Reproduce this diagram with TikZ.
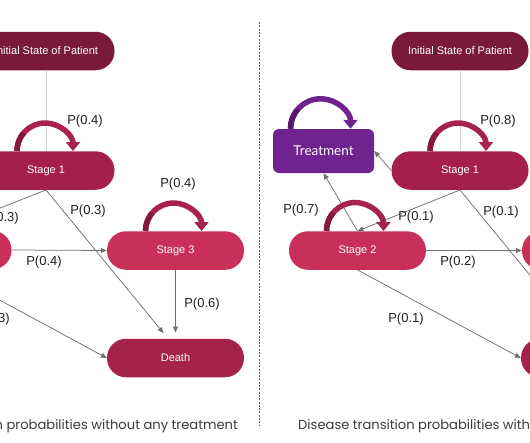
\documentclass[tikz,border=0pt]{standalone}
\usepackage{fontspec}
\setmainfont{Liberation Sans}
\newfontfamily\capfont{Poppins}
\newfontfamily\treatfont{Lato}
\usetikzlibrary{arrows.meta}
\definecolor{initc}{HTML}{791A38}
\definecolor{sonec}{HTML}{A4204B}
\definecolor{stwoc}{HTML}{C8305A}
\definecolor{deathc}{HTML}{A5224B}
\definecolor{treatc}{HTML}{6E2391}
\definecolor{loopc}{HTML}{A8224E}
\definecolor{loopdark}{HTML}{86183C}
\definecolor{purpc}{HTML}{6E2391}
\definecolor{purpdark}{HTML}{54196F}
\definecolor{edgec}{HTML}{707070}
\definecolor{vlinec}{HTML}{CFCFCF}
\definecolor{divc}{HTML}{B23A4C}
\definecolor{capc}{HTML}{3A3A3A}
\begin{document}
\begin{tikzpicture}[x=1pt,y=-1pt,
  pill/.style={rectangle, rounded corners=19pt, minimum width=137pt, minimum height=38.5pt, inner sep=0pt, text=white, font=\fontsize{11}{13}\selectfont},
  conn/.style={draw=edgec, line width=0.75pt, -{Triangle[width=5pt,length=6pt]}},
  plabel/.style={font=\fontsize{13}{15}\selectfont, text=black!88, inner sep=0pt},
  loopa/.style={line width=5.5pt, -{Triangle[width=14pt,length=9pt]}},
  loopfoot/.style={line width=5.5pt},
  capstyle/.style={font=\capfont\fontsize{13.1}{16}\selectfont, text=capc, inner sep=0pt},
  vline/.style={draw=vlinec, line width=0.8pt}
]
\useasboundingbox (0,0) rectangle (530,442);
\clip (0,0) rectangle (530,442);

% ---------------- left panel ----------------
\node[pill, fill=initc] (Linit) at (46,51) {Initial State of Patient};
\node[pill, fill=sonec] (Ls1) at (46,170.5) {Stage 1};
\node[pill, fill=stwoc] (Ls2) at (-57,250) {Stage 2};
\node[pill, fill=stwoc] (Ls3) at (175.5,250.5) {Stage 3};
\node[pill, fill=deathc] (Ldeath) at (175.5,358) {Death};

\draw[vline] (Linit.south) -- (Ls1.north);
\draw[conn] (Ls1.south) -- (Ls2.north);
\draw[conn, shorten >=7pt] (Ls1.south) -- ([xshift=-7.5pt]Ldeath.north);
\draw[conn] (Ls2.east) -- (Ls3.west);
\draw[conn] (Ls2.south) -- (Ldeath.west);
\draw[conn, shorten >=6pt] (Ls3.south) -- (Ldeath.north);

\draw[loopa, loopc] ([xshift=-29pt]Ls1.north) arc[start angle=180, end angle=0, radius=28pt];
\draw[loopfoot, loopdark] ([xshift=-29pt]Ls1.north) arc[start angle=180, end angle=140, radius=28pt];
\draw[loopa, loopc] ([xshift=-30pt]Ls3.north) arc[start angle=180, end angle=0, radius=28pt];
\draw[loopfoot, loopdark] ([xshift=-30pt]Ls3.north) arc[start angle=180, end angle=140, radius=28pt];

\node[plabel] (lab1) at (85,121) {P(0.4)};
\node[plabel] (lab2) at (1,218) {P(0.3)};
\node[plabel] (lab3) at (88,211) {P(0.3)};
\node[plabel] (lab4) at (44,262) {P(0.4)};
\node[plabel] (lab5) at (178,184) {P(0.4)};
\node[plabel] (lab6) at (202,304) {P(0.6)};
\node[plabel] (lab7) at (-8,319) {P(0.3)};

\node[capstyle, anchor=east] (capL) at (238,426) {Disease transition probabilities without any treatment};

% divider
\draw[divc, line width=0.7pt, dash pattern=on 2pt off 1.3pt] (259,22) -- (259,425);

% ---------------- right panel ----------------
\node[pill, fill=initc] (Rinit) at (460,51) {Initial State of Patient};
\node[pill, fill=sonec] (Rs1) at (460,170.5) {Stage 1};
\node[rectangle, rounded corners=6pt, minimum width=101pt, minimum height=44pt, inner sep=0pt, fill=treatc, text=white, font=\treatfont\fontsize{13.5}{15}\selectfont] (Rtreat) at (323.5,151) {Treatment};
\node[pill, fill=stwoc] (Rs2) at (357.5,250.5) {Stage 2};
\node[pill, fill=stwoc] (Rs3) at (590.5,250.5) {Stage 3};
\node[pill, fill=deathc] (Rdeath) at (589.5,358) {Death};

\draw[vline] (Rinit.south) -- (Rs1.north);
\draw[conn] (Rs1.west) -- (Rtreat.east);
\draw[conn] (Rs2.north) -- (Rtreat.south);
\draw[conn] (Rs1.south) -- (Rs2.north);
\draw[conn, shorten >=7pt] (Rs1.south) -- ([xshift=-7.5pt]Rdeath.north);
\draw[conn] (Rs2.east) -- (Rs3.west);
\draw[conn] (Rs2.south) -- (Rdeath.west);

\draw[loopa, loopc] ([xshift=-30pt]Rs1.north) arc[start angle=180, end angle=0, radius=28pt];
\draw[loopfoot, loopdark] ([xshift=-30pt]Rs1.north) arc[start angle=180, end angle=140, radius=28pt];
\draw[loopa, loopc] ([xshift=-31pt]Rs2.north) arc[start angle=180, end angle=0, radius=28.5pt];
\draw[loopfoot, loopdark] ([xshift=-31pt]Rs2.north) arc[start angle=180, end angle=140, radius=28.5pt];
\draw[loopa, purpc] ([xshift=-33pt]Rtreat.north) arc[start angle=180, end angle=0, radius=30pt];
\draw[loopfoot, purpdark] ([xshift=-33pt]Rtreat.north) arc[start angle=180, end angle=140, radius=30pt];

\node[plabel] (rlab1) at (498,121) {P(0.8)};
\node[plabel] (rlab2) at (416,217) {P(0.1)};
\node[plabel] (rlab3) at (501,212) {P(0.1)};
\node[plabel] (rlab4) at (301,210) {P(0.7)};
\node[plabel] (rlab5) at (458,262) {P(0.2)};
\node[plabel] (rlab6) at (406,319) {P(0.1)};

\node[capstyle, anchor=west] (capR) at (298,426) {Disease transition probabilities with treatment};
\end{tikzpicture}
\end{document}
